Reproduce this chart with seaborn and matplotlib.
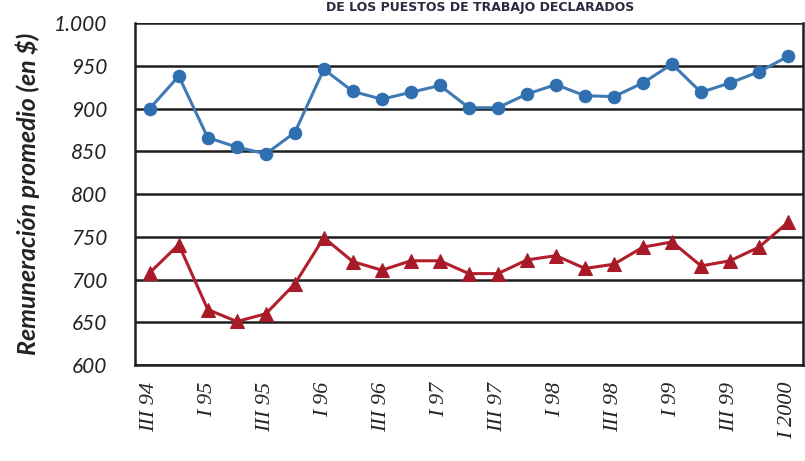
import numpy as np
import pandas as pd
import matplotlib.pyplot as plt
import seaborn as sns
from matplotlib.ticker import FixedLocator, FuncFormatter

# trimestres (III 94 .. I 2000)
trimestres = ["III 94", "IV 94", "I 95", "II 95", "III 95", "IV 95",
              "I 96", "II 96", "III 96", "IV 96", "I 97", "II 97",
              "III 97", "IV 97", "I 98", "II 98", "III 98", "IV 98",
              "I 99", "II 99", "III 99", "IV 99", "I 2000"]
serie_azul = [900, 938, 866, 855, 847, 872, 946, 920, 911, 919, 927, 901,
              901, 917, 928, 915, 914, 930, 952, 919, 930, 943, 961]
serie_roja = [708, 741, 665, 651, 660, 695, 749, 721, 711, 722, 722, 707,
              707, 723, 728, 713, 718, 738, 744, 716, 722, 738, 767]
y_ticks = [600, 650, 700, 750, 800, 850, 900, 950, 1000]

df = pd.DataFrame({"pos": np.arange(len(trimestres)),
                   "azul": serie_azul, "roja": serie_roja})

sns.set_style("white")
fig = plt.figure(figsize=(8.05, 4.61), dpi=100)
ax = fig.add_axes([0.168, 0.208, 0.829, 0.742])

sns.lineplot(data=df, x="pos", y="azul", ax=ax, color="#3f7ab5",
             linewidth=2.2, marker="o", markersize=9,
             markerfacecolor="#2f6fb0", markeredgecolor="#2f6fb0", zorder=3)
sns.lineplot(data=df, x="pos", y="roja", ax=ax, color="#b11e2c",
             linewidth=2.2, marker="^", markersize=10,
             markerfacecolor="#a81a28", markeredgecolor="#a81a28", zorder=3)

ax.set_ylim(600, 1000)
ax.set_xlim(-0.5, 22.45)
ax.yaxis.set_major_locator(FixedLocator(y_ticks))
ax.yaxis.set_major_formatter(FuncFormatter(
    lambda v, p: "1.000" if v == 1000 else f"{int(v)}"))
for yv in y_ticks:
    ax.axhline(yv, color="#1e1e1e", linewidth=1.8, zorder=1)

ax.set_xticks(np.arange(0, len(trimestres), 2))
ax.set_xticklabels(trimestres[::2], rotation=90, family="Liberation Serif",
                   style="italic", fontsize=16)
ax.set_xticks(np.arange(-0.5, len(trimestres), 1), minor=True)
ax.tick_params(axis="x", which="major", length=0, pad=12)
ax.tick_params(axis="x", which="minor", length=7, width=1.5,
               direction="out", color="#222222")
ax.tick_params(axis="y", length=8, width=1.5, direction="out",
               color="#222222", pad=12)
for lab in ax.get_yticklabels():
    lab.set_family("Lato")
    lab.set_style("italic")
    lab.set_fontsize(15)
    lab.set_color("#222222")

for side in ["left", "bottom", "right"]:
    ax.spines[side].set_color("#1e1e1e")
    ax.spines[side].set_linewidth(1.8)
ax.spines["top"].set_visible(False)

ax.set_xlabel("")
ax.set_ylabel("Remuneración promedio (en $)", family="Lato",
              style="italic", fontweight="bold", fontsize=18,
              color="#222222", labelpad=10)

fig.text(0.597, 0.998, "DE LOS PUESTOS DE TRABAJO DECLARADOS", ha="center",
         va="top", fontsize=9, fontweight="bold", color="#2a2a40",
         family="Liberation Sans Narrow")

fig.savefig("out.png", dpi=100, facecolor="white")
